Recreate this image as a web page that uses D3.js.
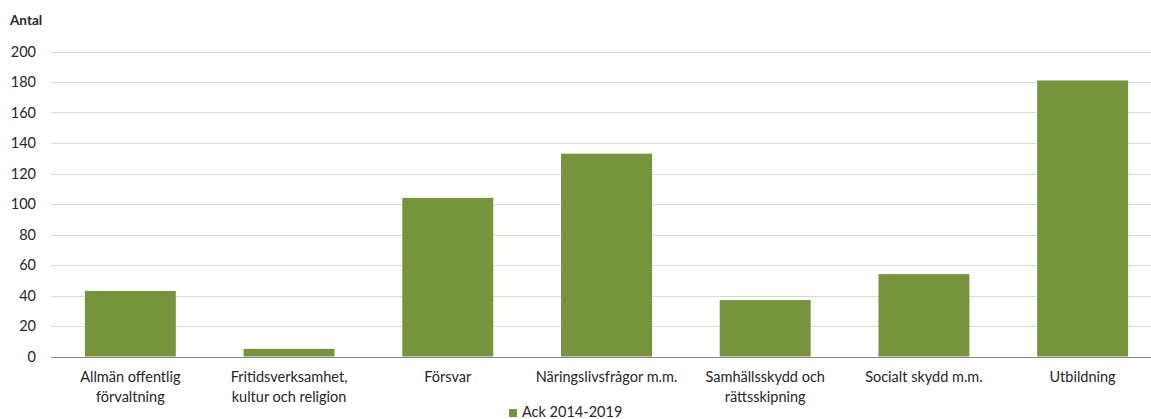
<!DOCTYPE html>
<html><head><meta charset="utf-8">
<script src="https://cdn.jsdelivr.net/npm/d3@7"></script>
<style>
body{margin:0;background:#fff;}
text{font-family:Lato,"Open Sans",sans-serif;fill:#262626;}
</style></head>
<body>
<svg id="c" width="1151" height="419"></svg>
<script>
const categories = [
  ["Allmän offentlig","förvaltning"],
  ["Fritidsverksamhet,","kultur och religion"],
  ["Försvar"],
  ["Näringslivsfrågor m.m."],
  ["Samhällsskydd och","rättsskipning"],
  ["Socialt skydd m.m."],
  ["Utbildning"]
];
const values = [43, 5, 104, 133, 37, 54, 181];
const yTicks = [0,20,40,60,80,100,120,140,160,180,200];
const seriesName = "Ack 2014-2019";
const yTitle = "Antal";

(function(){
const svg = d3.select("#c");
const pL = 51, pR = 1162, pT = 51.5, pB = 356.5;
const color = "#77933C";

const x = d3.scaleBand().domain(d3.range(categories.length)).range([pL, pR]).paddingInner(0.427).paddingOuter(0.2135);
const y = d3.scaleLinear().domain([0,200]).range([pB, pT]);

svg.append("g").selectAll("line").data(yTicks.filter(d=>d>0)).join("line")
  .attr("x1", pL).attr("x2", pR)
  .attr("y1", d=>Math.round(y(d))+0.5).attr("y2", d=>Math.round(y(d))+0.5)
  .attr("stroke", "#d9d9d9").attr("stroke-width", 1);

svg.append("g").selectAll("rect").data(values).join("rect")
  .attr("x", (d,i)=>x(i)).attr("width", x.bandwidth())
  .attr("y", d=>y(d)).attr("height", d=>y(0)-y(d))
  .attr("fill", color);

svg.append("line").attr("x1", pL).attr("x2", pR)
  .attr("y1", Math.round(y(0))+0.5).attr("y2", Math.round(y(0))+0.5)
  .attr("stroke", "#868686").attr("stroke-width", 1);

const yAxis = d3.axisLeft(y).tickValues(yTicks).tickSize(0).tickPadding(0);
const ga = svg.append("g").attr("transform", `translate(36,0)`).call(yAxis);
ga.select(".domain").remove();
ga.selectAll("text").attr("font-size", 14.5).attr("fill", "#262626")
  .style("font-family", "Lato, sans-serif");

const gl = svg.append("g");
categories.forEach((lines, i) => {
  const t = gl.append("text").attr("text-anchor", "middle").attr("font-size", 14.5);
  lines.forEach((ln, j) => {
    t.append("tspan").attr("x", x(i) + x.bandwidth()/2).attr("y", 382 + j*20).text(ln);
  });
});

svg.append("text").attr("x", 10).attr("y", 25).attr("font-size", 13.5).attr("font-weight", "bold").text(yTitle);

svg.append("rect").attr("x", 509).attr("y", 409).attr("width", 8).attr("height", 8).attr("fill", color);
svg.append("text").attr("x", 522).attr("y", 417).attr("font-size", 14.5).text(seriesName);
})();
</script>
</body></html>
